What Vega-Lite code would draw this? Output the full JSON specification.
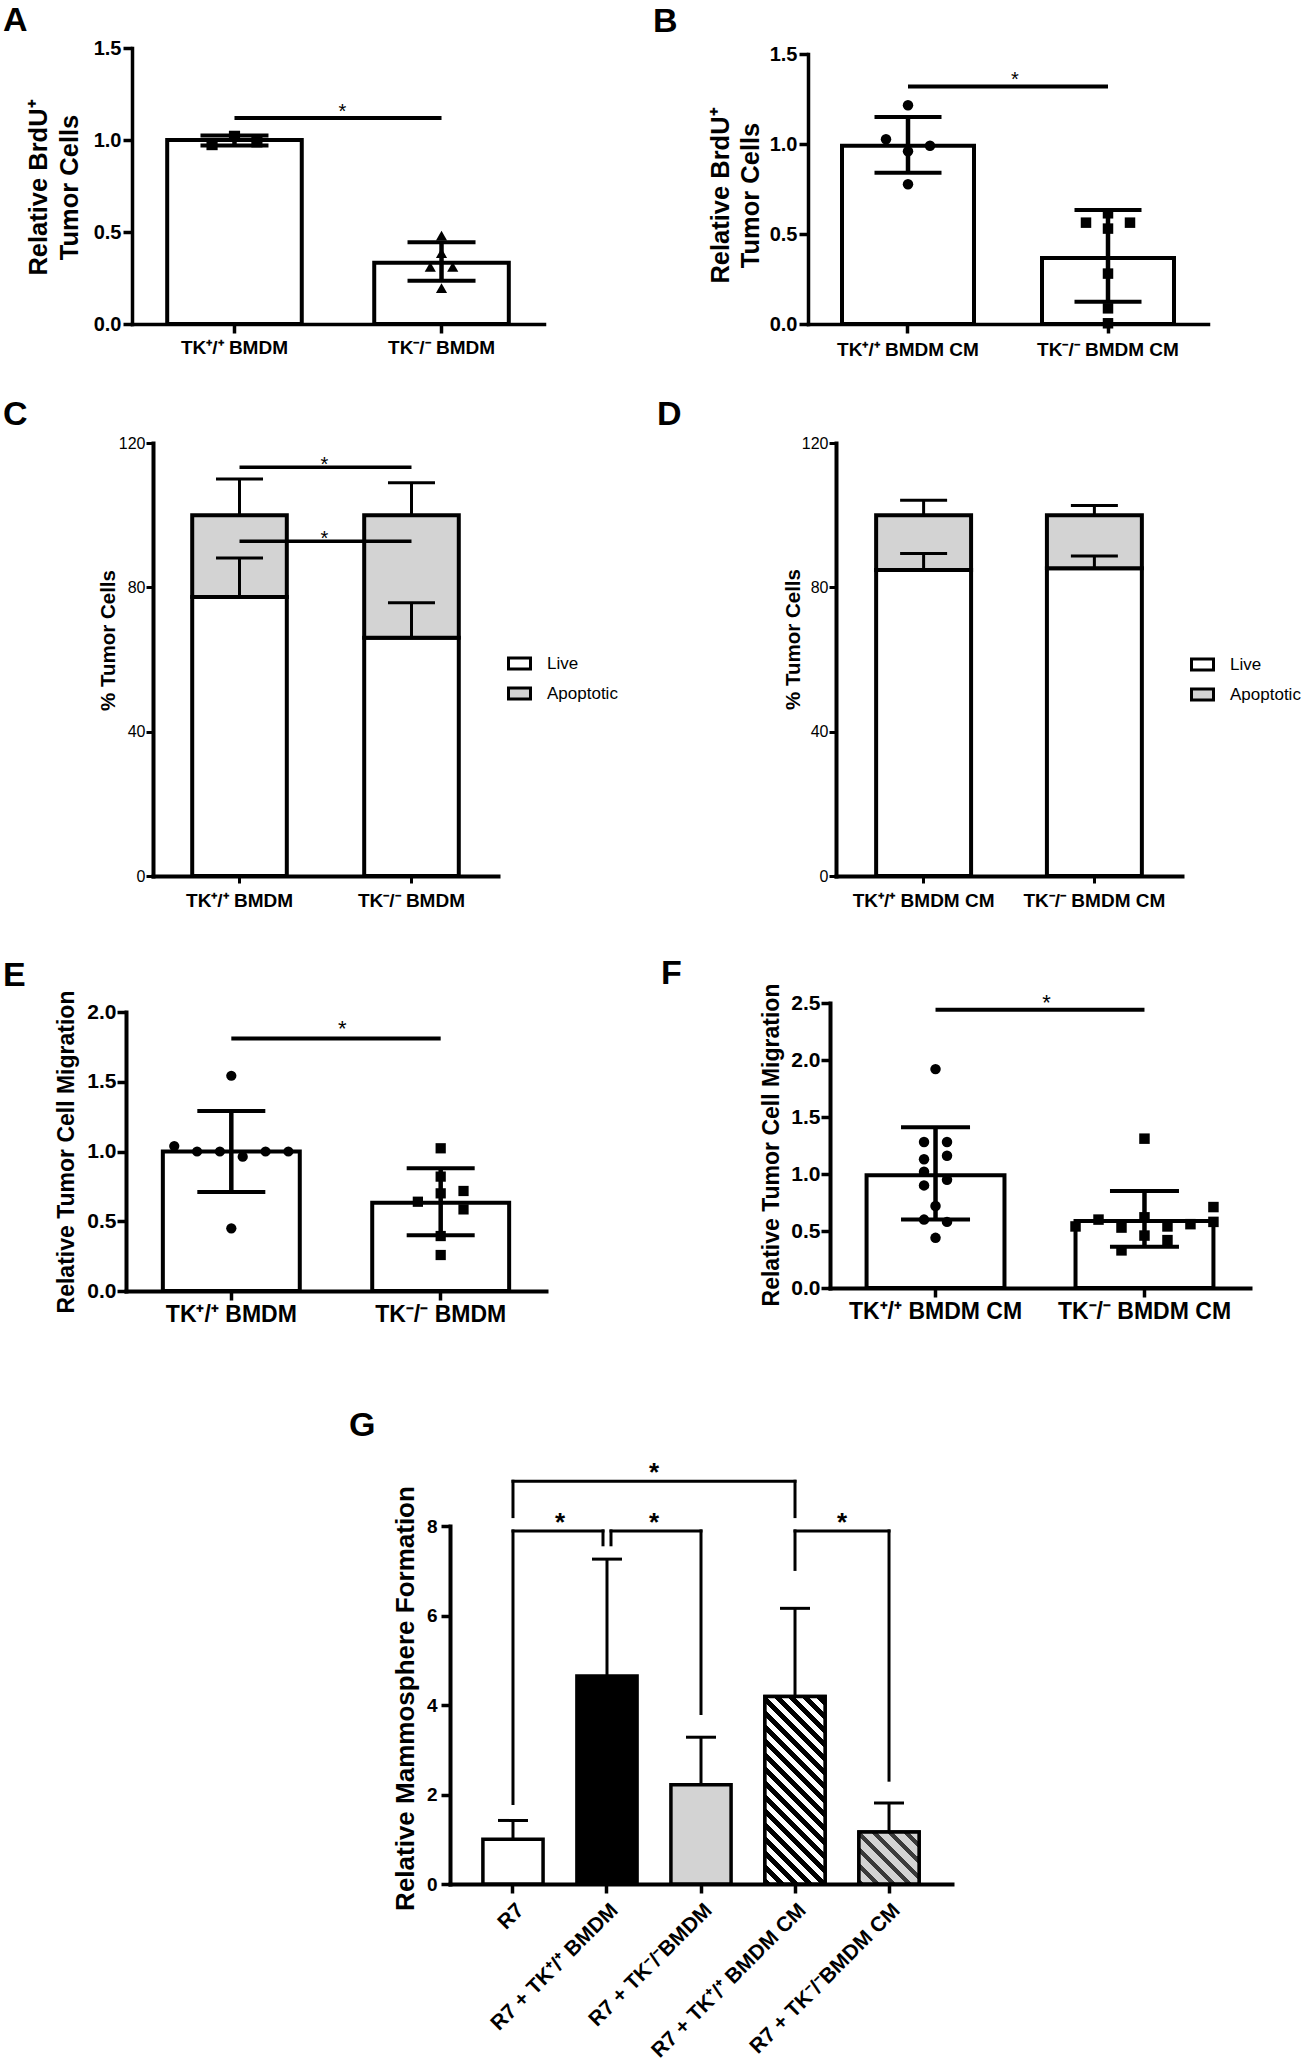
{
  "$schema": "https://vega.github.io/schema/vega-lite/v6.json",
  "background": "white",
  "padding": 0,
  "bounds": "flush",
  "spacing": 0,
  "resolve": {"scale": {"fill": "independent", "shape": "independent"}, "legend": {"fill": "independent", "shape": "independent"}},
  "config": {
    "view": {"stroke": null},
    "font": "Liberation Sans",
    "axis": {"grid": false, "domainColor": "black", "tickColor": "black", "labelColor": "black", "titleColor": "black", "labelFont": "Liberation Sans", "titleFont": "Liberation Sans", "labelLimit": 0, "titleLimit": 1000, "domainCap": "square"},
    "title": {"font": "Liberation Sans", "color": "black", "fontWeight": "bold", "fontSize": 34, "anchor": "start", "frame": "group", "baseline": "alphabetic"}
  },
  "datasets": {
    "A_bars": [{"g": "TK⁺/⁺ BMDM", "mean": 1.0, "lo": 0.97, "hi": 1.025}, {"g": "TK⁻/⁻ BMDM", "mean": 0.333, "lo": 0.235, "hi": 0.444}],
    "A_pts": [
      {"g": "TK⁺/⁺ BMDM", "v": 0.975, "slot": -1}, {"g": "TK⁺/⁺ BMDM", "v": 1.02, "slot": 0}, {"g": "TK⁺/⁺ BMDM", "v": 0.99, "slot": 1},
      {"g": "TK⁻/⁻ BMDM", "v": 0.48, "slot": 0}, {"g": "TK⁻/⁻ BMDM", "v": 0.385, "slot": 0}, {"g": "TK⁻/⁻ BMDM", "v": 0.31, "slot": -0.5},
      {"g": "TK⁻/⁻ BMDM", "v": 0.31, "slot": 0.5}, {"g": "TK⁻/⁻ BMDM", "v": 0.195, "slot": 0}],
    "A_sig": [{"g1": "TK⁺/⁺ BMDM", "g2": "TK⁻/⁻ BMDM", "y": 1.12}],
    "B_bars": [{"g": "TK⁺/⁺ BMDM CM", "mean": 0.99, "lo": 0.84, "hi": 1.15}, {"g": "TK⁻/⁻ BMDM CM", "mean": 0.367, "lo": 0.124, "hi": 0.633}],
    "B_pts": [
      {"g": "TK⁺/⁺ BMDM CM", "v": 1.215, "slot": 0}, {"g": "TK⁺/⁺ BMDM CM", "v": 1.026, "slot": -1}, {"g": "TK⁺/⁺ BMDM CM", "v": 0.99, "slot": 1},
      {"g": "TK⁺/⁺ BMDM CM", "v": 0.96, "slot": 0}, {"g": "TK⁺/⁺ BMDM CM", "v": 0.776, "slot": 0},
      {"g": "TK⁻/⁻ BMDM CM", "v": 0.615, "slot": 0}, {"g": "TK⁻/⁻ BMDM CM", "v": 0.563, "slot": -1}, {"g": "TK⁻/⁻ BMDM CM", "v": 0.563, "slot": 1},
      {"g": "TK⁻/⁻ BMDM CM", "v": 0.53, "slot": 0}, {"g": "TK⁻/⁻ BMDM CM", "v": 0.28, "slot": 0}, {"g": "TK⁻/⁻ BMDM CM", "v": 0.087, "slot": 0},
      {"g": "TK⁻/⁻ BMDM CM", "v": 0.004, "slot": 0}],
    "B_sig": [{"g1": "TK⁺/⁺ BMDM CM", "g2": "TK⁻/⁻ BMDM CM", "y": 1.32}],
    "C_stack": [{"g": "TK⁺/⁺ BMDM", "status": "Live", "v": 77.3}, {"g": "TK⁺/⁺ BMDM", "status": "Apoptotic", "v": 22.7},
      {"g": "TK⁻/⁻ BMDM", "status": "Live", "v": 66.0}, {"g": "TK⁻/⁻ BMDM", "status": "Apoptotic", "v": 34.0}],
    "C_err": [{"g": "TK⁺/⁺ BMDM", "base": 77.3, "top": 88.1}, {"g": "TK⁺/⁺ BMDM", "base": 100, "top": 110},
      {"g": "TK⁻/⁻ BMDM", "base": 66.0, "top": 75.7}, {"g": "TK⁻/⁻ BMDM", "base": 100, "top": 109}],
    "C_sig": [{"g1": "TK⁺/⁺ BMDM", "g2": "TK⁻/⁻ BMDM", "y": 113.3}, {"g1": "TK⁺/⁺ BMDM", "g2": "TK⁻/⁻ BMDM", "y": 92.8}],
    "D_stack": [{"g": "TK⁺/⁺ BMDM CM", "status": "Live", "v": 84.8}, {"g": "TK⁺/⁺ BMDM CM", "status": "Apoptotic", "v": 15.2},
      {"g": "TK⁻/⁻ BMDM CM", "status": "Live", "v": 85.3}, {"g": "TK⁻/⁻ BMDM CM", "status": "Apoptotic", "v": 14.7}],
    "D_err": [{"g": "TK⁺/⁺ BMDM CM", "base": 84.8, "top": 89.4}, {"g": "TK⁺/⁺ BMDM CM", "base": 100, "top": 104.1},
      {"g": "TK⁻/⁻ BMDM CM", "base": 85.3, "top": 88.7}, {"g": "TK⁻/⁻ BMDM CM", "base": 100, "top": 102.7}],
    "E_bars": [{"g": "TK⁺/⁺ BMDM", "mean": 1.0, "lo": 0.71, "hi": 1.29}, {"g": "TK⁻/⁻ BMDM", "mean": 0.633, "lo": 0.40, "hi": 0.88}],
    "E_pts": [
      {"g": "TK⁺/⁺ BMDM", "v": 1.543, "slot": 0}, {"g": "TK⁺/⁺ BMDM", "v": 1.039, "slot": -2.5}, {"g": "TK⁺/⁺ BMDM", "v": 1.0, "slot": -1.5},
      {"g": "TK⁺/⁺ BMDM", "v": 1.0, "slot": -0.5}, {"g": "TK⁺/⁺ BMDM", "v": 0.963, "slot": 0.5}, {"g": "TK⁺/⁺ BMDM", "v": 1.0, "slot": 1.5},
      {"g": "TK⁺/⁺ BMDM", "v": 1.0, "slot": 2.5}, {"g": "TK⁺/⁺ BMDM", "v": 0.449, "slot": 0},
      {"g": "TK⁻/⁻ BMDM", "v": 1.023, "slot": 0}, {"g": "TK⁻/⁻ BMDM", "v": 0.82, "slot": 0}, {"g": "TK⁻/⁻ BMDM", "v": 0.717, "slot": 1},
      {"g": "TK⁻/⁻ BMDM", "v": 0.7, "slot": 0}, {"g": "TK⁻/⁻ BMDM", "v": 0.64, "slot": -1}, {"g": "TK⁻/⁻ BMDM", "v": 0.585, "slot": 1},
      {"g": "TK⁻/⁻ BMDM", "v": 0.394, "slot": 0}, {"g": "TK⁻/⁻ BMDM", "v": 0.258, "slot": 0}],
    "E_sig": [{"g1": "TK⁺/⁺ BMDM", "g2": "TK⁻/⁻ BMDM", "y": 1.81}],
    "F_bars": [{"g": "TK⁺/⁺ BMDM CM", "mean": 0.99, "lo": 0.6, "hi": 1.41}, {"g": "TK⁻/⁻ BMDM CM", "mean": 0.588, "lo": 0.362, "hi": 0.85}],
    "F_pts": [
      {"g": "TK⁺/⁺ BMDM CM", "v": 1.92, "slot": 0}, {"g": "TK⁺/⁺ BMDM CM", "v": 1.28, "slot": -0.5}, {"g": "TK⁺/⁺ BMDM CM", "v": 1.28, "slot": 0.5},
      {"g": "TK⁺/⁺ BMDM CM", "v": 1.16, "slot": 0.5}, {"g": "TK⁺/⁺ BMDM CM", "v": 1.13, "slot": -0.5}, {"g": "TK⁺/⁺ BMDM CM", "v": 1.02, "slot": -0.5},
      {"g": "TK⁺/⁺ BMDM CM", "v": 0.95, "slot": 0.5}, {"g": "TK⁺/⁺ BMDM CM", "v": 0.9, "slot": -0.5}, {"g": "TK⁺/⁺ BMDM CM", "v": 0.72, "slot": 0},
      {"g": "TK⁺/⁺ BMDM CM", "v": 0.6, "slot": -0.5}, {"g": "TK⁺/⁺ BMDM CM", "v": 0.58, "slot": 0.5}, {"g": "TK⁺/⁺ BMDM CM", "v": 0.44, "slot": 0},
      {"g": "TK⁻/⁻ BMDM CM", "v": 1.31, "slot": 0}, {"g": "TK⁻/⁻ BMDM CM", "v": 0.71, "slot": 3}, {"g": "TK⁻/⁻ BMDM CM", "v": 0.6, "slot": -2},
      {"g": "TK⁻/⁻ BMDM CM", "v": 0.62, "slot": 0}, {"g": "TK⁻/⁻ BMDM CM", "v": 0.58, "slot": 3}, {"g": "TK⁻/⁻ BMDM CM", "v": 0.54, "slot": -3},
      {"g": "TK⁻/⁻ BMDM CM", "v": 0.53, "slot": -1}, {"g": "TK⁻/⁻ BMDM CM", "v": 0.54, "slot": 1}, {"g": "TK⁻/⁻ BMDM CM", "v": 0.56, "slot": 2},
      {"g": "TK⁻/⁻ BMDM CM", "v": 0.46, "slot": 0}, {"g": "TK⁻/⁻ BMDM CM", "v": 0.42, "slot": 1}, {"g": "TK⁻/⁻ BMDM CM", "v": 0.33, "slot": -1}],
    "F_sig": [{"g1": "TK⁺/⁺ BMDM CM", "g2": "TK⁻/⁻ BMDM CM", "y": 2.44}],
    "G_bars": [{"id": 1, "g": "R7", "mean": 1.0, "hi": 1.42}, {"id": 2, "g": "R7 + TK⁺/⁺ BMDM", "mean": 4.65, "hi": 7.26},
      {"id": 3, "g": "R7 + TK⁻/⁻BMDM", "mean": 2.22, "hi": 3.28}, {"id": 4, "g": "R7 + TK⁺/⁺ BMDM CM", "mean": 4.19, "hi": 6.16},
      {"id": 5, "g": "R7 + TK⁻/⁻BMDM CM", "mean": 1.16, "hi": 1.81}],
    "G_h1": [{"g1": "R7", "g2": "R7 + TK⁺/⁺ BMDM", "y": 7.89}],
    "G_h2": [{"g1": "R7 + TK⁺/⁺ BMDM", "g2": "R7 + TK⁻/⁻BMDM", "y": 7.89}],
    "G_h3": [{"g1": "R7", "g2": "R7 + TK⁺/⁺ BMDM CM", "y": 9.0}, {"g1": "R7 + TK⁺/⁺ BMDM CM", "g2": "R7 + TK⁻/⁻BMDM CM", "y": 7.89}],
    "G_v": [{"g": "R7", "y": 1.8, "y2": 7.89}, {"g": "R7", "y": 8.21, "y2": 9.0}, {"g": "R7 + TK⁻/⁻BMDM", "y": 3.81, "y2": 7.89},
      {"g": "R7 + TK⁺/⁺ BMDM CM", "y": 8.21, "y2": 9.0}, {"g": "R7 + TK⁺/⁺ BMDM CM", "y": 7.03, "y2": 7.89}, {"g": "R7 + TK⁻/⁻BMDM CM", "y": 2.32, "y2": 7.89}],
    "G_vm": [{"g": "R7 + TK⁺/⁺ BMDM", "y": 7.58, "y2": 7.89}],
    "G_s": [{"g": "R7", "y": 7.89}, {"g": "R7 + TK⁺/⁺ BMDM", "y": 7.89}, {"g": "R7 + TK⁺/⁺ BMDM CM", "y": 7.89}],
    "G_s3": [{"g": "R7", "y": 9.0}]
  },
  "vconcat": [
    {"width": 1, "height": 48, "data": {"values": [{"s": 0}]}, "mark": {"type": "point", "opacity": 0}, "encoding": {}},
    {"hconcat": [
      {"width": 129, "height": 1, "data": {"values": [{"s": 0}]}, "mark": {"type": "point", "opacity": 0}, "encoding": {}},
      {"width": 412, "height": 276,
       "title": {"text": "A", "dx": -129, "offset": 0},
       "resolve": {"scale": {"xOffset": "independent"}},
       "layer": [
        {"data": {"name": "A_bars"}, "mark": {"type": "bar", "fill": "white", "stroke": "black", "strokeWidth": 4},
         "encoding": {
          "x": {"field": "g", "type": "nominal", "scale": {"domain": ["TK⁺/⁺ BMDM", "TK⁻/⁻ BMDM"], "paddingInner": 0.35, "paddingOuter": 0.17},
                "axis": {"title": null, "labelAngle": 0, "labelFontSize": 19, "labelFontWeight": "bold", "domainWidth": 3.5, "tickWidth": 3.5, "tickSize": 9, "labelPadding": 5}},
          "y": {"field": "mean", "type": "quantitative", "scale": {"domain": [0, 1.5], "nice": false},
                "axis": {"values": [0, 0.5, 1, 1.5], "format": ".1f", "labelFontSize": 20, "labelFontWeight": "bold", "domainWidth": 3.5, "tickWidth": 3.5, "tickSize": 9, "labelPadding": 2,
                         "title": ["Relative BrdU⁺", "Tumor Cells"], "titleFontSize": 25.5, "titleFontWeight": "bold", "titleLineHeight": 31, "titleX": -86, "titleY": 139, "titleBaseline": "alphabetic", "titleAngle": -90}}}},
        {"data": {"name": "A_bars"}, "mark": {"type": "rule", "color": "black", "strokeWidth": 4.5},
         "encoding": {"x": {"field": "g", "type": "nominal"}, "y": {"field": "lo", "type": "quantitative"}, "y2": {"field": "hi"}}},
        {"data": {"name": "A_bars"}, "mark": {"type": "tick", "color": "black", "opacity": 1, "size": 68, "thickness": 4},
         "encoding": {"x": {"field": "g", "type": "nominal"}, "y": {"field": "hi", "type": "quantitative"}}},
        {"data": {"name": "A_bars"}, "mark": {"type": "tick", "color": "black", "opacity": 1, "size": 68, "thickness": 4},
         "encoding": {"x": {"field": "g", "type": "nominal"}, "y": {"field": "lo", "type": "quantitative"}}},
        {"data": {"name": "A_pts"}, "mark": {"type": "point", "filled": true, "opacity": 1, "color": "black", "size": 125},
         "encoding": {"x": {"field": "g", "type": "nominal"},
          "xOffset": {"field": "slot", "type": "ordinal", "scale": {"type": "point", "padding": 0, "domain": [-3, -2.5, -2, -1.5, -1, -0.5, 0, 0.5, 1, 1.5, 2, 2.5, 3]}},
          "y": {"field": "v", "type": "quantitative"},
          "shape": {"field": "g", "type": "nominal", "scale": {"domain": ["TK⁺/⁺ BMDM", "TK⁻/⁻ BMDM"], "range": ["square", "triangle-up"]}, "legend": null}}},
        {"data": {"name": "A_sig"}, "mark": {"type": "rule", "color": "black", "strokeWidth": 4},
         "encoding": {"x": {"field": "g1", "type": "nominal", "bandPosition": 0.5}, "x2": {"field": "g2", "bandPosition": 0.5}, "y": {"field": "y", "type": "quantitative"}}},
        {"data": {"name": "A_sig"}, "mark": {"type": "text", "text": "*", "font": "Liberation Sans", "fontSize": 20, "color": "black", "dx": 108, "baseline": "alphabetic", "align": "center"},
         "encoding": {"x": {"field": "g1", "type": "nominal", "bandPosition": 0.5}, "y": {"field": "y", "type": "quantitative"}}}
       ]},
      {"width": 264, "height": 1, "data": {"values": [{"s": 0}]}, "mark": {"type": "point", "opacity": 0}, "encoding": {}},
      {"vconcat": [
        {"width": 1, "height": 6, "data": {"values": [{"s": 0}]}, "mark": {"type": "point", "opacity": 0}, "encoding": {}},
        {"width": 400, "height": 270,
         "title": {"text": "B", "dx": -155, "offset": 5},
         "resolve": {"scale": {"xOffset": "independent"}},
         "layer": [
          {"data": {"name": "B_bars"}, "mark": {"type": "bar", "fill": "white", "stroke": "black", "strokeWidth": 4},
           "encoding": {
            "x": {"field": "g", "type": "nominal", "scale": {"domain": ["TK⁺/⁺ BMDM CM", "TK⁻/⁻ BMDM CM"], "paddingInner": 0.34, "paddingOuter": 0.17},
                  "axis": {"title": null, "labelAngle": 0, "labelFontSize": 19, "labelFontWeight": "bold", "domainWidth": 3.5, "tickWidth": 3.5, "tickSize": 9, "labelPadding": 7}},
            "y": {"field": "mean", "type": "quantitative", "scale": {"domain": [0, 1.5], "nice": false},
                  "axis": {"values": [0, 0.5, 1, 1.5], "format": ".1f", "labelFontSize": 20, "labelFontWeight": "bold", "domainWidth": 3.5, "tickWidth": 3.5, "tickSize": 9, "labelPadding": 2,
                           "title": ["Relative BrdU⁺", "Tumor Cells"], "titleFontSize": 25.5, "titleFontWeight": "bold", "titleLineHeight": 30, "titleX": -80, "titleY": 141, "titleBaseline": "alphabetic", "titleAngle": -90}}}},
          {"data": {"name": "B_bars"}, "mark": {"type": "rule", "color": "black", "strokeWidth": 4.5},
           "encoding": {"x": {"field": "g", "type": "nominal"}, "y": {"field": "lo", "type": "quantitative"}, "y2": {"field": "hi"}}},
          {"data": {"name": "B_bars"}, "mark": {"type": "tick", "color": "black", "opacity": 1, "size": 67, "thickness": 4},
           "encoding": {"x": {"field": "g", "type": "nominal"}, "y": {"field": "hi", "type": "quantitative"}}},
          {"data": {"name": "B_bars"}, "mark": {"type": "tick", "color": "black", "opacity": 1, "size": 67, "thickness": 4},
           "encoding": {"x": {"field": "g", "type": "nominal"}, "y": {"field": "lo", "type": "quantitative"}}},
          {"data": {"name": "B_pts"}, "mark": {"type": "point", "filled": true, "opacity": 1, "color": "black", "size": 110},
           "encoding": {"x": {"field": "g", "type": "nominal"},
            "xOffset": {"field": "slot", "type": "ordinal", "scale": {"type": "point", "padding": 0, "domain": [-3, -2.5, -2, -1.5, -1, -0.5, 0, 0.5, 1, 1.5, 2, 2.5, 3]}},
            "y": {"field": "v", "type": "quantitative"},
            "shape": {"field": "g", "type": "nominal", "scale": {"domain": ["TK⁺/⁺ BMDM CM", "TK⁻/⁻ BMDM CM"], "range": ["circle", "square"]}, "legend": null}}},
          {"data": {"name": "B_sig"}, "mark": {"type": "rule", "color": "black", "strokeWidth": 4},
           "encoding": {"x": {"field": "g1", "type": "nominal", "bandPosition": 0.5}, "x2": {"field": "g2", "bandPosition": 0.5}, "y": {"field": "y", "type": "quantitative"}}},
          {"data": {"name": "B_sig"}, "mark": {"type": "text", "text": "*", "font": "Liberation Sans", "fontSize": 20, "color": "black", "dx": 107, "baseline": "alphabetic", "align": "center"},
           "encoding": {"x": {"field": "g1", "type": "nominal", "bandPosition": 0.5}, "y": {"field": "y", "type": "quantitative"}}}
         ]}
      ], "spacing": 0, "bounds": "flush", "resolve": {"scale": {"fill": "independent", "shape": "independent"}, "legend": {"fill": "independent", "shape": "independent"}}}
    ], "spacing": 0, "bounds": "flush", "resolve": {"scale": {"fill": "independent", "shape": "independent"}, "legend": {"fill": "independent", "shape": "independent"}}},
    {"width": 1, "height": 395, "data": {"values": [{"s": 0}]}, "mark": {"type": "point", "opacity": 0}, "encoding": {}},
    {"hconcat": [
      {"width": 150, "height": 1, "data": {"values": [{"s": 0}]}, "mark": {"type": "point", "opacity": 0}, "encoding": {}},
      {"width": 345, "height": 433,
       "title": {"text": "C", "dx": -150, "offset": 3},
       "layer": [
        {"data": {"name": "C_stack"}, "mark": {"type": "bar", "stroke": "black", "strokeWidth": 4},
         "encoding": {
          "x": {"field": "g", "type": "nominal", "scale": {"domain": ["TK⁺/⁺ BMDM", "TK⁻/⁻ BMDM"], "paddingInner": 0.45, "paddingOuter": 0.228},
                "axis": {"title": null, "labelAngle": 0, "labelFontSize": 19, "labelFontWeight": "bold", "domainWidth": 4, "tickWidth": 3, "tickSize": 7, "labelPadding": 8}},
          "y": {"field": "v", "type": "quantitative", "stack": "zero", "scale": {"domain": [0, 120], "nice": false},
                "axis": {"values": [0, 40, 80, 120], "labelFontSize": 16, "labelFontWeight": "normal", "domainWidth": 4, "tickWidth": 3, "tickSize": 7, "labelPadding": 1,
                         "title": "% Tumor Cells", "titleFontSize": 20.5, "titleFontWeight": "bold", "titleX": -39, "titleY": 197, "titleBaseline": "alphabetic", "titleAngle": -90}},
          "fill": {"field": "status", "type": "nominal", "scale": {"domain": ["Live", "Apoptotic"], "range": ["white", "#d3d3d3"]},
                   "legend": {"orient": "none", "legendX": 354, "legendY": 208, "title": null, "symbolType": "M-1,-0.5H1V0.5H-1Z", "symbolSize": 484, "symbolStrokeColor": "black", "symbolStrokeWidth": 3, "symbolOpacity": 1,
                              "labelFontSize": 17, "labelFont": "Liberation Sans", "labelColor": "black", "labelOffset": 15, "rowPadding": 6, "padding": 0}},
          "order": {"field": "status", "sort": "descending"}}},
        {"data": {"name": "C_err"}, "mark": {"type": "rule", "color": "black", "strokeWidth": 3},
         "encoding": {"x": {"field": "g", "type": "nominal"}, "y": {"field": "base", "type": "quantitative"}, "y2": {"field": "top"}}},
        {"data": {"name": "C_err"}, "mark": {"type": "tick", "color": "black", "opacity": 1, "size": 47, "thickness": 3},
         "encoding": {"x": {"field": "g", "type": "nominal"}, "y": {"field": "top", "type": "quantitative"}}},
        {"data": {"name": "C_sig"}, "mark": {"type": "rule", "color": "black", "strokeWidth": 3.5},
         "encoding": {"x": {"field": "g1", "type": "nominal", "bandPosition": 0.5}, "x2": {"field": "g2", "bandPosition": 0.5}, "y": {"field": "y", "type": "quantitative"}}},
        {"data": {"name": "C_sig"}, "mark": {"type": "text", "text": "*", "font": "Liberation Sans", "fontSize": 20, "color": "black", "dx": 85, "dy": 4, "baseline": "alphabetic", "align": "center"},
         "encoding": {"x": {"field": "g1", "type": "nominal", "bandPosition": 0.5}, "y": {"field": "y", "type": "quantitative"}}}
       ]},
      {"width": 338, "height": 1, "data": {"values": [{"s": 0}]}, "mark": {"type": "point", "opacity": 0}, "encoding": {}},
      {"width": 346, "height": 433,
       "title": {"text": "D", "dx": -179, "offset": 3},
       "layer": [
        {"data": {"name": "D_stack"}, "mark": {"type": "bar", "stroke": "black", "strokeWidth": 4},
         "encoding": {
          "x": {"field": "g", "type": "nominal", "scale": {"domain": ["TK⁺/⁺ BMDM CM", "TK⁻/⁻ BMDM CM"], "paddingInner": 0.444, "paddingOuter": 0.235},
                "axis": {"title": null, "labelAngle": 0, "labelFontSize": 19, "labelFontWeight": "bold", "domainWidth": 4, "tickWidth": 3, "tickSize": 7, "labelPadding": 8}},
          "y": {"field": "v", "type": "quantitative", "stack": "zero", "scale": {"domain": [0, 120], "nice": false},
                "axis": {"values": [0, 40, 80, 120], "labelFontSize": 16, "labelFontWeight": "normal", "domainWidth": 4, "tickWidth": 3, "tickSize": 7, "labelPadding": 1,
                         "title": "% Tumor Cells", "titleFontSize": 20.5, "titleFontWeight": "bold", "titleX": -37, "titleY": 196, "titleBaseline": "alphabetic", "titleAngle": -90}},
          "fill": {"field": "status", "type": "nominal", "scale": {"domain": ["Live", "Apoptotic"], "range": ["white", "#d3d3d3"]},
                   "legend": {"orient": "none", "legendX": 354, "legendY": 209, "title": null, "symbolType": "M-1,-0.5H1V0.5H-1Z", "symbolSize": 484, "symbolStrokeColor": "black", "symbolStrokeWidth": 3, "symbolOpacity": 1,
                              "labelFontSize": 17, "labelFont": "Liberation Sans", "labelColor": "black", "labelOffset": 15, "rowPadding": 6, "padding": 0}},
          "order": {"field": "status", "sort": "descending"}}},
        {"data": {"name": "D_err"}, "mark": {"type": "rule", "color": "black", "strokeWidth": 3},
         "encoding": {"x": {"field": "g", "type": "nominal"}, "y": {"field": "base", "type": "quantitative"}, "y2": {"field": "top"}}},
        {"data": {"name": "D_err"}, "mark": {"type": "tick", "color": "black", "opacity": 1, "size": 47, "thickness": 3},
         "encoding": {"x": {"field": "g", "type": "nominal"}, "y": {"field": "top", "type": "quantitative"}}}
       ]}
    ], "spacing": 0, "bounds": "flush", "resolve": {"scale": {"fill": "independent", "shape": "independent"}, "legend": {"fill": "independent", "shape": "independent"}}},
    {"width": 1, "height": 560, "data": {"values": [{"s": 0}]}, "mark": {"type": "point", "opacity": 0}, "encoding": {}},
    {"hconcat": [
      {"width": 123, "height": 1, "data": {"values": [{"s": 0}]}, "mark": {"type": "point", "opacity": 0}, "encoding": {}},
      {"vconcat": [
        {"width": 1, "height": 9, "data": {"values": [{"s": 0}]}, "mark": {"type": "point", "opacity": 0}, "encoding": {}},
        {"width": 420, "height": 279,
         "title": {"text": "E", "dx": -123, "offset": -3},
         "resolve": {"scale": {"xOffset": "independent"}},
         "layer": [
          {"data": {"name": "E_bars"}, "mark": {"type": "bar", "fill": "white", "stroke": "black", "strokeWidth": 4},
           "encoding": {
            "x": {"field": "g", "type": "nominal", "scale": {"domain": ["TK⁺/⁺ BMDM", "TK⁻/⁻ BMDM"], "paddingInner": 0.346, "paddingOuter": 0.176},
                  "axis": {"title": null, "labelAngle": 0, "labelFontSize": 23, "labelFontWeight": "bold", "domainWidth": 4, "tickWidth": 3.5, "tickSize": 9, "labelPadding": 3}},
            "y": {"field": "mean", "type": "quantitative", "scale": {"domain": [0, 2], "nice": false},
                  "axis": {"values": [0, 0.5, 1, 1.5, 2], "format": ".1f", "labelFontSize": 21, "labelFontWeight": "bold", "domainWidth": 4, "tickWidth": 3.5, "tickSize": 9, "labelPadding": 1,
                           "title": "Relative Tumor Cell Migration", "titleFontSize": 23, "titleFontWeight": "bold", "titleX": -52.5, "titleY": 139.5, "titleBaseline": "alphabetic", "titleAngle": -90}}}},
          {"data": {"name": "E_bars"}, "mark": {"type": "rule", "color": "black", "strokeWidth": 4.5},
           "encoding": {"x": {"field": "g", "type": "nominal"}, "y": {"field": "lo", "type": "quantitative"}, "y2": {"field": "hi"}}},
          {"data": {"name": "E_bars"}, "mark": {"type": "tick", "color": "black", "opacity": 1, "size": 68, "thickness": 4},
           "encoding": {"x": {"field": "g", "type": "nominal"}, "y": {"field": "hi", "type": "quantitative"}}},
          {"data": {"name": "E_bars"}, "mark": {"type": "tick", "color": "black", "opacity": 1, "size": 68, "thickness": 4},
           "encoding": {"x": {"field": "g", "type": "nominal"}, "y": {"field": "lo", "type": "quantitative"}}},
          {"data": {"name": "E_pts"}, "mark": {"type": "point", "filled": true, "opacity": 1, "color": "black", "size": 105},
           "encoding": {"x": {"field": "g", "type": "nominal"},
            "xOffset": {"field": "slot", "type": "ordinal", "scale": {"type": "point", "padding": 0, "domain": [-3, -2.5, -2, -1.5, -1, -0.5, 0, 0.5, 1, 1.5, 2, 2.5, 3]}},
            "y": {"field": "v", "type": "quantitative"},
            "shape": {"field": "g", "type": "nominal", "scale": {"domain": ["TK⁺/⁺ BMDM", "TK⁻/⁻ BMDM"], "range": ["circle", "square"]}, "legend": null}}},
          {"data": {"name": "E_sig"}, "mark": {"type": "rule", "color": "black", "strokeWidth": 4},
           "encoding": {"x": {"field": "g1", "type": "nominal", "bandPosition": 0.5}, "x2": {"field": "g2", "bandPosition": 0.5}, "y": {"field": "y", "type": "quantitative"}}},
          {"data": {"name": "E_sig"}, "mark": {"type": "text", "text": "*", "font": "Liberation Sans", "fontSize": 22, "color": "black", "dx": 111, "dy": -3, "baseline": "alphabetic", "align": "center"},
           "encoding": {"x": {"field": "g1", "type": "nominal", "bandPosition": 0.5}, "y": {"field": "y", "type": "quantitative"}}}
         ]}
      ], "spacing": 0, "bounds": "flush", "resolve": {"scale": {"fill": "independent", "shape": "independent"}, "legend": {"fill": "independent", "shape": "independent"}}},
      {"width": 704, "height": 1, "data": {"values": [{"s": 0}]}, "mark": {"type": "point", "opacity": 0}, "encoding": {}},
      {"width": 420, "height": 285,
       "title": {"text": "F", "dx": -169, "offset": -8},
       "resolve": {"scale": {"xOffset": "independent"}},
       "layer": [
        {"data": {"name": "F_bars"}, "mark": {"type": "bar", "fill": "white", "stroke": "black", "strokeWidth": 4},
         "encoding": {
          "x": {"field": "g", "type": "nominal", "scale": {"domain": ["TK⁺/⁺ BMDM CM", "TK⁻/⁻ BMDM CM"], "paddingInner": 0.34, "paddingOuter": 0.175},
                "axis": {"title": null, "labelAngle": 0, "labelFontSize": 23, "labelFontWeight": "bold", "domainWidth": 4, "tickWidth": 3.5, "tickSize": 9, "labelPadding": 3}},
          "y": {"field": "mean", "type": "quantitative", "scale": {"domain": [0, 2.5], "nice": false},
                "axis": {"values": [0, 0.5, 1, 1.5, 2, 2.5], "format": ".1f", "labelFontSize": 21, "labelFontWeight": "bold", "domainWidth": 4, "tickWidth": 3.5, "tickSize": 9, "labelPadding": 1,
                         "title": "Relative Tumor Cell Migration", "titleFontSize": 23, "titleFontWeight": "bold", "titleX": -52, "titleY": 141.5, "titleBaseline": "alphabetic", "titleAngle": -90}}}},
        {"data": {"name": "F_bars"}, "mark": {"type": "rule", "color": "black", "strokeWidth": 4.5},
         "encoding": {"x": {"field": "g", "type": "nominal"}, "y": {"field": "lo", "type": "quantitative"}, "y2": {"field": "hi"}}},
        {"data": {"name": "F_bars"}, "mark": {"type": "tick", "color": "black", "opacity": 1, "size": 69, "thickness": 4},
         "encoding": {"x": {"field": "g", "type": "nominal"}, "y": {"field": "hi", "type": "quantitative"}}},
        {"data": {"name": "F_bars"}, "mark": {"type": "tick", "color": "black", "opacity": 1, "size": 69, "thickness": 4},
         "encoding": {"x": {"field": "g", "type": "nominal"}, "y": {"field": "lo", "type": "quantitative"}}},
        {"data": {"name": "F_pts"}, "mark": {"type": "point", "filled": true, "opacity": 1, "color": "black", "size": 110},
         "encoding": {"x": {"field": "g", "type": "nominal"},
          "xOffset": {"field": "slot", "type": "ordinal", "scale": {"type": "point", "padding": 0, "domain": [-3, -2.5, -2, -1.5, -1, -0.5, 0, 0.5, 1, 1.5, 2, 2.5, 3]}},
          "y": {"field": "v", "type": "quantitative"},
          "shape": {"field": "g", "type": "nominal", "scale": {"domain": ["TK⁺/⁺ BMDM CM", "TK⁻/⁻ BMDM CM"], "range": ["circle", "square"]}, "legend": null}}},
        {"data": {"name": "F_sig"}, "mark": {"type": "rule", "color": "black", "strokeWidth": 4},
         "encoding": {"x": {"field": "g1", "type": "nominal", "bandPosition": 0.5}, "x2": {"field": "g2", "bandPosition": 0.5}, "y": {"field": "y", "type": "quantitative"}}},
        {"data": {"name": "F_sig"}, "mark": {"type": "text", "text": "*", "font": "Liberation Sans", "fontSize": 22, "color": "black", "dx": 111, "baseline": "alphabetic", "align": "center"},
         "encoding": {"x": {"field": "g1", "type": "nominal", "bandPosition": 0.5}, "y": {"field": "y", "type": "quantitative"}}}
       ]}
    ], "spacing": 0, "bounds": "flush", "resolve": {"scale": {"fill": "independent", "shape": "independent"}, "legend": {"fill": "independent", "shape": "independent"}}},
    {"width": 1, "height": 523, "data": {"values": [{"s": 0}]}, "mark": {"type": "point", "opacity": 0}, "encoding": {}},
    {"hconcat": [
      {"width": 447, "height": 1, "data": {"values": [{"s": 0}]}, "mark": {"type": "point", "opacity": 0}, "encoding": {}},
      {"width": 502, "height": 358,
       "title": {"text": "G", "dx": -101, "offset": 17},
       "layer": [
        {"data": {"name": "G_bars"}, "mark": {"type": "bar", "stroke": "black", "strokeWidth": 3.5},
         "encoding": {
          "x": {"field": "g", "type": "nominal", "scale": {"domain": ["R7", "R7 + TK⁺/⁺ BMDM", "R7 + TK⁻/⁻BMDM", "R7 + TK⁺/⁺ BMDM CM", "R7 + TK⁻/⁻BMDM CM"], "paddingInner": 0.36, "paddingOuter": 0.35},
                "axis": {"title": null, "labelAngle": -45, "labelAlign": "right", "labelBaseline": "top", "labelFontSize": 21, "labelFontWeight": "bold", "domainWidth": 4, "tickWidth": 3.5, "tickSize": 9, "labelPadding": 6}},
          "y": {"field": "mean", "type": "quantitative", "scale": {"domain": [0, 8], "nice": false},
                "axis": {"values": [0, 2, 4, 6, 8], "format": "d", "labelFontSize": 19, "labelFontWeight": "bold", "domainWidth": 4, "tickWidth": 3.5, "tickSize": 9, "labelPadding": 4,
                         "title": "Relative Mammosphere Formation", "titleFontSize": 26, "titleFontWeight": "bold", "titleX": -36.5, "titleY": 172, "titleBaseline": "alphabetic", "titleAngle": -90}},
          "fill": {"field": "g", "type": "nominal", "scale": {"domain": ["R7", "R7 + TK⁺/⁺ BMDM", "R7 + TK⁻/⁻BMDM", "R7 + TK⁺/⁺ BMDM CM", "R7 + TK⁻/⁻BMDM CM"], "range": ["white", "black", "#d3d3d3", "white", "#d3d3d3"]}, "legend": null}}},
        {"data": {"name": "G_bars"}, "transform": [{"filter": "datum.id == 4"}],
         "mark": {"type": "bar", "stroke": "black", "strokeWidth": 3.5,
          "fill": {"gradient": "linear", "x1": 0, "y1": 1, "x2": 0.3838, "y2": -0.1975, "stops": [
            {"offset": 0, "color": "black"}, {"offset": 0.0283, "color": "black"}, {"offset": 0.0283, "color": "white"}, {"offset": 0.0565, "color": "white"},
            {"offset": 0.0565, "color": "black"}, {"offset": 0.0848, "color": "black"}, {"offset": 0.0848, "color": "white"}, {"offset": 0.1131, "color": "white"},
            {"offset": 0.1131, "color": "black"}, {"offset": 0.1414, "color": "black"}, {"offset": 0.1414, "color": "white"}, {"offset": 0.1696, "color": "white"},
            {"offset": 0.1696, "color": "black"}, {"offset": 0.1979, "color": "black"}, {"offset": 0.1979, "color": "white"}, {"offset": 0.2262, "color": "white"},
            {"offset": 0.2262, "color": "black"}, {"offset": 0.2544, "color": "black"}, {"offset": 0.2544, "color": "white"}, {"offset": 0.2827, "color": "white"},
            {"offset": 0.2827, "color": "black"}, {"offset": 0.3110, "color": "black"}, {"offset": 0.3110, "color": "white"}, {"offset": 0.3392, "color": "white"},
            {"offset": 0.3392, "color": "black"}, {"offset": 0.3675, "color": "black"}, {"offset": 0.3675, "color": "white"}, {"offset": 0.3958, "color": "white"},
            {"offset": 0.3958, "color": "black"}, {"offset": 0.4241, "color": "black"}, {"offset": 0.4241, "color": "white"}, {"offset": 0.4523, "color": "white"},
            {"offset": 0.4523, "color": "black"}, {"offset": 0.4806, "color": "black"}, {"offset": 0.4806, "color": "white"}, {"offset": 0.5089, "color": "white"},
            {"offset": 0.5089, "color": "black"}, {"offset": 0.5371, "color": "black"}, {"offset": 0.5371, "color": "white"}, {"offset": 0.5654, "color": "white"},
            {"offset": 0.5654, "color": "black"}, {"offset": 0.5937, "color": "black"}, {"offset": 0.5937, "color": "white"}, {"offset": 0.6219, "color": "white"},
            {"offset": 0.6219, "color": "black"}, {"offset": 0.6502, "color": "black"}, {"offset": 0.6502, "color": "white"}, {"offset": 0.6785, "color": "white"},
            {"offset": 0.6785, "color": "black"}, {"offset": 0.7068, "color": "black"}, {"offset": 0.7068, "color": "white"}, {"offset": 0.7350, "color": "white"},
            {"offset": 0.7350, "color": "black"}, {"offset": 0.7633, "color": "black"}, {"offset": 0.7633, "color": "white"}, {"offset": 0.7916, "color": "white"},
            {"offset": 0.7916, "color": "black"}, {"offset": 0.8198, "color": "black"}, {"offset": 0.8198, "color": "white"}, {"offset": 0.8481, "color": "white"},
            {"offset": 0.8481, "color": "black"}, {"offset": 0.8764, "color": "black"}, {"offset": 0.8764, "color": "white"}, {"offset": 0.9046, "color": "white"},
            {"offset": 0.9046, "color": "black"}, {"offset": 0.9329, "color": "black"}, {"offset": 0.9329, "color": "white"}, {"offset": 0.9612, "color": "white"},
            {"offset": 0.9612, "color": "black"}, {"offset": 0.9895, "color": "black"}, {"offset": 0.9895, "color": "white"}, {"offset": 1, "color": "white"}]}},
         "encoding": {"x": {"field": "g", "type": "nominal"}, "y": {"field": "mean", "type": "quantitative"}}},
        {"data": {"name": "G_bars"}, "transform": [{"filter": "datum.id == 5"}],
         "mark": {"type": "bar", "stroke": "black", "strokeWidth": 3.5,
          "fill": {"gradient": "linear", "x1": 0, "y1": 1, "x2": 1.0674, "y2": 0.0782, "stops": [
            {"offset": 0, "color": "#3a3a3a"}, {"offset": 0.0536, "color": "#3a3a3a"}, {"offset": 0.0536, "color": "#d3d3d3"}, {"offset": 0.1429, "color": "#d3d3d3"},
            {"offset": 0.1429, "color": "#3a3a3a"}, {"offset": 0.1964, "color": "#3a3a3a"}, {"offset": 0.1964, "color": "#d3d3d3"}, {"offset": 0.2857, "color": "#d3d3d3"},
            {"offset": 0.2857, "color": "#3a3a3a"}, {"offset": 0.3393, "color": "#3a3a3a"}, {"offset": 0.3393, "color": "#d3d3d3"}, {"offset": 0.4286, "color": "#d3d3d3"},
            {"offset": 0.4286, "color": "#3a3a3a"}, {"offset": 0.4821, "color": "#3a3a3a"}, {"offset": 0.4821, "color": "#d3d3d3"}, {"offset": 0.5714, "color": "#d3d3d3"},
            {"offset": 0.5714, "color": "#3a3a3a"}, {"offset": 0.625, "color": "#3a3a3a"}, {"offset": 0.625, "color": "#d3d3d3"}, {"offset": 0.7143, "color": "#d3d3d3"},
            {"offset": 0.7143, "color": "#3a3a3a"}, {"offset": 0.7679, "color": "#3a3a3a"}, {"offset": 0.7679, "color": "#d3d3d3"}, {"offset": 0.8571, "color": "#d3d3d3"},
            {"offset": 0.8571, "color": "#3a3a3a"}, {"offset": 0.9107, "color": "#3a3a3a"}, {"offset": 0.9107, "color": "#d3d3d3"}, {"offset": 1, "color": "#d3d3d3"}]}},
         "encoding": {"x": {"field": "g", "type": "nominal"}, "y": {"field": "mean", "type": "quantitative"}}},
        {"data": {"name": "G_bars"}, "mark": {"type": "rule", "color": "black", "strokeWidth": 3},
         "encoding": {"x": {"field": "g", "type": "nominal"}, "y": {"field": "mean", "type": "quantitative"}, "y2": {"field": "hi"}}},
        {"data": {"name": "G_bars"}, "mark": {"type": "tick", "color": "black", "opacity": 1, "size": 30, "thickness": 3},
         "encoding": {"x": {"field": "g", "type": "nominal"}, "y": {"field": "hi", "type": "quantitative"}}},
        {"data": {"name": "G_h1"}, "mark": {"type": "rule", "color": "black", "strokeWidth": 3, "strokeCap": "square", "x2Offset": -4},
         "encoding": {"x": {"field": "g1", "type": "nominal", "bandPosition": 0.5}, "x2": {"field": "g2", "bandPosition": 0.5}, "y": {"field": "y", "type": "quantitative"}}},
        {"data": {"name": "G_h2"}, "mark": {"type": "rule", "color": "black", "strokeWidth": 3, "strokeCap": "square", "xOffset": 4},
         "encoding": {"x": {"field": "g1", "type": "nominal", "bandPosition": 0.5}, "x2": {"field": "g2", "bandPosition": 0.5}, "y": {"field": "y", "type": "quantitative"}}},
        {"data": {"name": "G_h3"}, "mark": {"type": "rule", "color": "black", "strokeWidth": 3, "strokeCap": "square"},
         "encoding": {"x": {"field": "g1", "type": "nominal", "bandPosition": 0.5}, "x2": {"field": "g2", "bandPosition": 0.5}, "y": {"field": "y", "type": "quantitative"}}},
        {"data": {"name": "G_v"}, "mark": {"type": "rule", "color": "black", "strokeWidth": 3, "strokeCap": "square"},
         "encoding": {"x": {"field": "g", "type": "nominal", "bandPosition": 0.5}, "y": {"field": "y", "type": "quantitative"}, "y2": {"field": "y2"}}},
        {"data": {"name": "G_vm"}, "mark": {"type": "rule", "color": "black", "strokeWidth": 3, "strokeCap": "square", "xOffset": -4},
         "encoding": {"x": {"field": "g", "type": "nominal", "bandPosition": 0.5}, "y": {"field": "y", "type": "quantitative"}, "y2": {"field": "y2"}}},
        {"data": {"name": "G_vm"}, "mark": {"type": "rule", "color": "black", "strokeWidth": 3, "strokeCap": "square", "xOffset": 4},
         "encoding": {"x": {"field": "g", "type": "nominal", "bandPosition": 0.5}, "y": {"field": "y", "type": "quantitative"}, "y2": {"field": "y2"}}},
        {"data": {"name": "G_s"}, "mark": {"type": "text", "text": "*", "font": "Liberation Sans", "fontSize": 26, "fontWeight": "bold", "color": "black", "dx": 47, "baseline": "alphabetic", "align": "center"},
         "encoding": {"x": {"field": "g", "type": "nominal", "bandPosition": 0.5}, "y": {"field": "y", "type": "quantitative"}}},
        {"data": {"name": "G_s3"}, "mark": {"type": "text", "text": "*", "font": "Liberation Sans", "fontSize": 26, "fontWeight": "bold", "color": "black", "dx": 141, "baseline": "alphabetic", "align": "center"},
         "encoding": {"x": {"field": "g", "type": "nominal", "bandPosition": 0.5}, "y": {"field": "y", "type": "quantitative"}}}
       ]}
    ], "spacing": 0, "bounds": "flush", "resolve": {"scale": {"fill": "independent", "shape": "independent"}, "legend": {"fill": "independent", "shape": "independent"}}}
  ]
}
